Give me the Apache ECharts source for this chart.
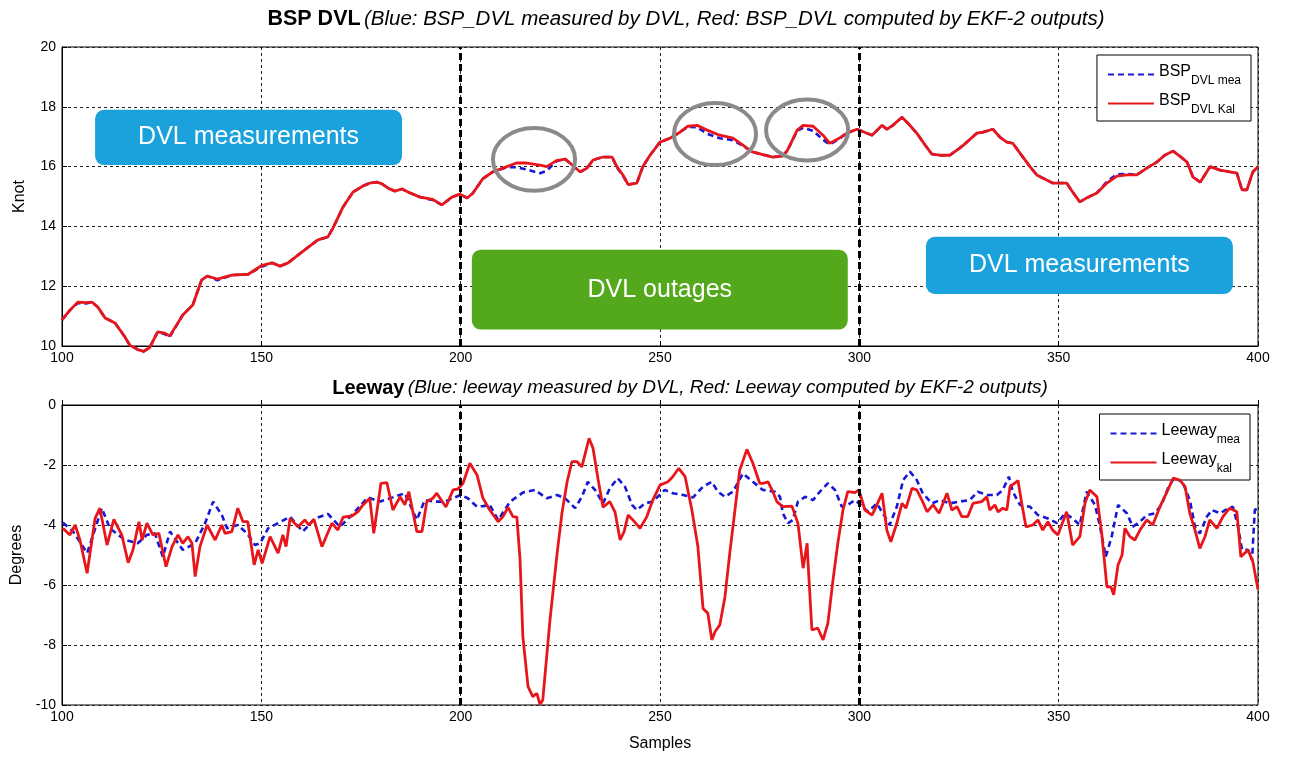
<!DOCTYPE html>
<html>
<head>
<meta charset="utf-8">
<script src="https://cdn.jsdelivr.net/npm/echarts@6/dist/echarts.min.js"></script>
<style>
  html, body { margin: 0; padding: 0; background: #fff; }
  #chart { width: 1289px; height: 761px; }
</style>
</head>
<body>
<div id="chart"></div>
<script>
// ---- Boat speed (knots): [sample, value] ----
const bspKal = [
  [100,10.87],[102,11.2],[104,11.47],[106,11.45],[107.5,11.47],[109,11.3],[110.8,10.94],[113.3,10.77],[115.8,10.3],[117,10.03],
  [119,9.88],[120.5,9.82],[122,9.95],[124,10.47],[125.8,10.43],[127,10.33],[130.3,11.04],[132.8,11.37],[135,12.2],[136.4,12.34],
  [139,12.24],[142.6,12.37],[146.7,12.4],[150.2,12.7],[152.7,12.78],[154.7,12.67],[156.7,12.78],[161.7,13.3],[164.2,13.55],[166.7,13.65],
  [168,13.95],[170.5,14.65],[173,15.15],[175.5,15.35],[177.2,15.45],[179,15.48],[180.3,15.42],[181.8,15.28],[183.5,15.18],[185.3,15.25],
  [187.3,15.12],[189.8,14.98],[193,14.9],[195.3,14.72],[197.8,14.98],[199.8,15.08],[201.6,14.95],[203,15.1],[205.6,15.6],[208,15.82],
  [211.6,16.0],[214,16.12],[216.6,16.12],[219.9,16.05],[221.6,16.0],[224,16.2],[226.2,16.25],[227.4,16.12],[230,15.82],[231.7,15.95],
  [233.2,16.22],[235.7,16.32],[238,16.32],[239.2,16.0],[240.7,15.72],[242,15.4],[244.2,15.45],[245.7,16.0],[247.5,16.38],[250,16.82],
  [252.5,16.95],[255,17.15],[257,17.35],[259.3,17.38],[261.8,17.22],[265,17.05],[268.3,16.95],[270.8,16.72],[273,16.5],[275.8,16.4],
  [278.3,16.32],[280.8,16.35],[282,16.55],[284.4,17.22],[285.9,17.38],[288.4,17.35],[290.9,17.05],[292.6,16.78],[294.6,16.92],[296.9,17.12],
  [299.4,17.25],[303.2,17.05],[305.7,17.38],[306.9,17.25],[308.4,17.38],[310.7,17.65],[312.2,17.45],[314.4,17.12],[316.5,16.72],[318.2,16.42],
  [320.2,16.38],[322.7,16.38],[325.2,16.62],[327,16.82],[329.5,17.12],[331,17.15],[333.5,17.25],[335.3,16.98],[337,16.82],[338.5,16.78],
  [340.3,16.45],[342.8,16.0],[344.5,15.72],[347,15.55],[348.5,15.45],[352,15.45],[353.5,15.15],[355.3,14.82],[357,14.95],[359.6,15.12],
  [362.1,15.45],[364.6,15.68],[367.1,15.72],[369.6,15.72],[372.1,15.95],[374.6,16.15],[376.6,16.38],[378.7,16.52],[380.4,16.35],[382.2,16.15],
  [383.7,15.65],[385.5,15.48],[388,16.0],[390.5,15.88],[393,15.82],[394.7,15.78],[396,15.22],[397.2,15.22],[398.7,15.82],[400,16.0]
];
const bspMea = [
  [100,10.87],[102,11.2],[104,11.44],[106,11.42],[107.5,11.47],[109,11.3],[110.8,10.94],[113.3,10.77],[115.8,10.3],[117,10.03],
  [119,9.88],[120.5,9.82],[122,9.95],[124,10.47],[125.8,10.4],[127,10.3],[130.3,11.04],[132.8,11.37],[135,12.2],[136.4,12.34],
  [139,12.2],[142.6,12.37],[146.7,12.4],[150.2,12.66],[152.7,12.78],[154.7,12.67],[156.7,12.78],[161.7,13.3],[164.2,13.55],[166.7,13.65],
  [168,13.95],[170.5,14.65],[173,15.15],[175.5,15.35],[177.2,15.45],[179,15.48],[180.3,15.42],[181.8,15.28],[183.5,15.18],[185.3,15.25],
  [187.3,15.12],[189.8,14.98],[193,14.88],[195.3,14.72],[197.8,14.98],[199.8,15.08],[201.6,14.95],[203,15.1],[205.6,15.6],[208,15.82],
  [211.6,15.98],[214,15.98],[216.6,15.9],[219.9,15.78],[221.6,15.86],[224,16.18],[226.2,16.25],[227.4,16.12],[230,15.82],[231.7,15.95],
  [233.2,16.22],[235.7,16.32],[238,16.32],[239.2,15.96],[240.7,15.7],[242,15.4],[244.2,15.45],[245.7,16.0],[247.5,16.38],[250,16.82],
  [252.5,16.95],[255,17.15],[257,17.33],[259.3,17.32],[261.8,17.1],[265,16.95],[268.3,16.88],[270.8,16.7],[273,16.5],[275.8,16.4],
  [278.3,16.32],[280.8,16.35],[282,16.55],[284.4,17.2],[285.9,17.3],[288.4,17.2],[290.9,16.9],[292.6,16.74],[294.6,16.9],[296.9,17.12],
  [299.4,17.25],[303.2,17.05],[305.7,17.38],[306.9,17.25],[308.4,17.38],[310.7,17.65],[312.2,17.45],[314.4,17.12],[316.5,16.72],[318.2,16.42],
  [320.2,16.38],[322.7,16.38],[325.2,16.62],[327,16.82],[329.5,17.12],[331,17.15],[333.5,17.25],[335.3,16.98],[337,16.82],[338.5,16.78],
  [340.3,16.45],[342.8,16.0],[344.5,15.72],[347,15.55],[348.5,15.45],[352,15.45],[353.5,15.15],[355.3,14.82],[357,14.95],[359.6,15.12],
  [362.1,15.5],[364.6,15.74],[367.1,15.76],[369.6,15.72],[372.1,15.95],[374.6,16.15],[376.6,16.38],[378.7,16.52],[380.4,16.35],[382.2,16.15],
  [383.7,15.65],[385.5,15.48],[388,16.0],[390.5,15.88],[393,15.82],[394.7,15.78],[396,15.22],[397.2,15.22],[398.7,15.82],[400,16.0]
];

// ---- Leeway (degrees): [sample, value] ----
const leeKal = [
  [100.2,-4.11],[102,-4.33],[103.3,-4.0],[104.5,-4.5],[106.3,-5.61],[108.3,-3.78],[109.5,-3.44],[111.3,-4.67],[113,-3.81],[115,-4.33],
  [116.6,-5.26],[117.8,-4.83],[119.3,-3.89],[120.1,-4.5],[121.3,-3.94],[122.8,-4.33],[124.3,-4.28],[126.1,-5.39],[127.6,-4.72],[129.1,-4.33],
  [130.3,-4.61],[131.6,-4.39],[132.6,-4.61],[133.4,-5.72],[134.6,-4.72],[136.4,-4.0],[138.4,-4.5],[140.1,-4.0],[140.9,-4.28],[142.6,-4.22],
  [144.1,-3.44],[145.4,-3.89],[146.6,-3.89],[148.2,-5.33],[149.2,-4.83],[150.2,-5.28],[152.2,-4.39],[154.2,-4.94],[155.4,-4.33],[156.2,-4.72],
  [157.2,-3.78],[159.2,-4.06],[160.9,-3.83],[161.9,-4.0],[163.2,-3.81],[165.2,-4.72],[167.7,-3.94],[169.2,-4.17],[170.5,-3.74],[172.7,-3.7],
  [174.2,-3.56],[175.5,-3.33],[177.2,-3.11],[178.2,-4.28],[180,-2.61],[181.5,-2.59],[183,-3.5],[184.8,-3.06],[186,-3.33],[187,-2.89],
  [189,-4.22],[190.3,-4.22],[191.5,-3.22],[193,-3.11],[194,-2.94],[196.3,-3.4],[198.1,-2.83],[199.3,-2.8],[200.6,-2.61],[202.3,-1.94],
  [204.1,-2.33],[205.6,-3.11],[207.3,-3.5],[209.4,-3.89],[210.6,-3.72],[211.9,-3.41],[213.1,-3.72],[214.1,-3.74],[214.9,-5.17],[215.6,-7.72],
  [216.9,-9.39],[218.1,-9.72],[219.1,-9.61],[219.9,-9.98],[220.6,-9.83],[222.4,-7.17],[224.2,-4.94],[225.4,-3.61],[226.7,-2.56],[227.9,-1.89],
  [229.2,-1.89],[230.4,-2.06],[232.2,-1.11],[233.2,-1.44],[234.5,-2.5],[235.7,-3.41],[237.4,-3.22],[238.7,-3.56],[240,-4.5],[241,-4.22],
  [242,-3.67],[243.2,-3.83],[245,-4.11],[246.7,-3.72],[248.2,-3.17],[250,-2.67],[252,-2.56],[253.2,-2.39],[254.7,-2.11],[256.3,-2.39],
  [258,-3.5],[259.5,-4.72],[260.8,-6.78],[262,-6.94],[263,-7.83],[263.8,-7.56],[265,-7.33],[266.3,-6.39],[267.5,-4.94],[268.8,-3.5],
  [270,-2.17],[271.8,-1.48],[273.3,-1.94],[275,-2.61],[275.8,-2.61],[277.1,-2.56],[278.3,-2.89],[279.3,-3.22],[280.8,-3.39],[283.1,-3.37],
  [284.6,-3.94],[285.9,-5.44],[286.9,-4.61],[287.1,-5.17],[288.1,-7.5],[289.6,-7.44],[290.9,-7.83],[292.1,-7.28],[293.4,-5.83],[294.6,-4.61],
  [295.9,-3.5],[297.1,-2.89],[298.9,-2.92],[299.9,-2.83],[301.4,-3.5],[303.2,-3.67],[304.4,-3.33],[305.7,-2.94],[306.9,-4.17],[307.9,-4.56],
  [309.4,-3.94],[310.7,-3.28],[311.7,-3.44],[313.2,-2.78],[314.4,-2.83],[315.7,-3.17],[317,-3.56],[318.5,-3.33],[320,-3.61],[322,-2.94],
  [323.2,-3.5],[324.5,-3.39],[325.7,-3.72],[327.2,-3.72],[328.5,-3.28],[330.7,-3.22],[332,-3.06],[332.7,-3.5],[334,-3.33],[334.8,-3.56],
  [336,-3.44],[337,-3.5],[337.8,-2.72],[339.8,-2.52],[340.8,-3.33],[341.8,-4.06],[343.5,-4.0],[344.8,-3.83],[346,-4.17],[347.3,-3.89],
  [348.5,-4.17],[349.8,-4.33],[352,-3.56],[353.5,-4.67],[355.3,-4.39],[356.6,-3.28],[357.8,-2.83],[359.6,-3.06],[360.8,-4.28],[362.1,-6.06],
  [363.1,-6.06],[363.8,-6.33],[364.9,-5.33],[365.9,-5.0],[366.6,-4.11],[367.9,-4.39],[369.1,-4.5],[370.4,-4.17],[372.1,-3.83],[373.6,-4.0],
  [375.4,-3.39],[377.2,-2.89],[378.7,-2.44],[380.4,-2.5],[381.7,-2.72],[382.9,-3.61],[384.2,-4.17],[385.4,-4.78],[386.7,-4.39],[387.9,-3.83],
  [389.7,-4.11],[391.2,-3.72],[392.9,-3.44],[394.7,-3.56],[395.7,-5.06],[397.5,-4.83],[398.7,-5.22],[400,-6.15]
];
const leeMea = [
  [100.2,-3.92],[102.8,-4.22],[106.3,-4.94],[110,-3.44],[112,-4.11],[115.8,-4.5],[119,-4.61],[121.3,-4.33],[123.3,-4.28],[125.3,-5.06],
  [127.1,-4.22],[130.3,-4.83],[133.4,-4.61],[135.9,-3.94],[137.9,-3.22],[140.1,-3.67],[141.4,-4.11],[144.1,-4.0],[146.4,-4.28],[148.4,-4.67],
  [149.7,-4.61],[151.7,-4.11],[154.2,-3.94],[157.2,-3.72],[160.4,-4.22],[163.5,-3.78],[166.7,-3.63],[169.7,-4.06],[172.7,-3.67],[176.7,-3.08],
  [179.8,-3.22],[182.3,-3.11],[186,-2.94],[189,-3.83],[191,-3.17],[193.6,-3.22],[196,-3.22],[198,-3.11],[200,-3.0],[201.8,-3.11],
  [204.1,-3.39],[205.6,-3.37],[207.3,-3.33],[209.4,-3.83],[212.4,-3.22],[215.6,-2.92],[218.6,-2.83],[221.6,-3.11],[224.2,-3.0],[226.2,-3.11],
  [228.7,-3.44],[230.4,-3.06],[231.9,-2.56],[233.7,-2.83],[235.7,-3.28],[237.4,-2.78],[239.4,-2.44],[241.2,-2.72],[243,-3.33],[244.2,-3.5],
  [246.2,-3.28],[248.2,-3.22],[251.2,-2.83],[253.2,-2.94],[255.8,-3.0],[258.3,-3.08],[260.8,-2.72],[263,-2.56],[264.5,-2.89],[266.3,-3.06],
  [268.3,-2.89],[270.8,-2.28],[273.3,-2.56],[275.8,-2.83],[278.8,-2.89],[280.1,-3.06],[280.8,-3.61],[282.1,-3.94],[283.3,-3.83],[284.6,-3.22],
  [286.4,-3.06],[288.4,-3.17],[290.1,-2.89],[292.1,-2.61],[293.9,-2.83],[295.6,-3.39],[297.1,-3.33],[298.9,-3.17],[299.9,-3.28],[302.2,-3.56],
  [304.4,-3.28],[306.4,-3.72],[307.6,-4.0],[309.4,-3.39],[311,-2.5],[312.7,-2.22],[314.4,-2.5],[315.9,-2.94],[318.2,-3.28],[320.2,-3.17],
  [322.7,-3.28],[325.2,-3.22],[327.7,-3.17],[329.7,-2.89],[332,-3.0],[334.5,-3.0],[336,-2.83],[337.5,-2.39],[338.5,-2.89],[340.3,-3.33],
  [342.8,-3.39],[344.8,-3.67],[347.3,-3.78],[349.6,-3.94],[351.6,-3.61],[353.5,-3.78],[355.3,-4.0],[357,-2.89],[359.1,-3.33],[360.3,-4.0],
  [361.8,-5.06],[363.3,-4.39],[364.9,-3.33],[367.1,-3.61],[368.6,-4.06],[370.4,-3.89],[372.1,-3.67],[374.1,-3.61],[375.8,-3.33],[377.4,-2.78],
  [379.1,-2.39],[381.2,-2.61],[382.9,-3.17],[384.2,-4.06],[385.4,-4.28],[387.2,-3.72],[388.4,-3.5],[390.5,-3.61],[392.5,-3.44],[393.7,-3.39],
  [395,-4.06],[396,-4.83],[397.5,-4.83],[398.5,-5.17],[399.2,-3.5],[400,-3.44]
];

// Sample range and phase boundaries (DVL available / outage / available)
const sampleRange = [100, 400];
const sampleStep = 50;
const phaseBounds = [200, 300];
const bspRange = [10, 20];
const leeRange = [-10, 0];
const valueStep = 2;

// Panel titles
const bspTitle = ['BSP DVL', '(Blue: BSP_DVL measured by DVL, Red: BSP_DVL computed by EKF-2 outputs)'];
const leeTitle = ['Leeway', '(Blue: leeway measured by DVL, Red: Leeway computed by EKF-2 outputs)'];

// Text callouts on the speed panel, in data units
const callouts = [
  { text: 'DVL measurements', x0: 108.3, x1: 185.3, y0: 17.9, y1: 16.05 },
  { text: 'DVL outages',      x0: 202.8, x1: 297.1, y0: 13.22, y1: 10.55 },
  { text: 'DVL measurements', x0: 316.7, x1: 393.7, y0: 13.65, y1: 11.74 }
];
const calloutColors = ['#1ba1dc', '#54a81c', '#1ba1dc'];
// Rings around the outage discrepancies, in data units (centre, half-width, half-height)
const rings = [
  { x: 218.4, y: 16.24, dx: 10.3, dy: 1.05 },
  { x: 263.8, y: 17.09, dx: 10.3, dy: 1.04 },
  { x: 286.9, y: 17.22, dx: 10.3, dy: 1.02 }
];

const FONT = "'Liberation Sans', Arial, sans-serif";
const RED = '#e8161b';
const BLUE = '#1717d6';

const chart = echarts.init(document.getElementById('chart'), null, { renderer: 'canvas' });

function xAxisCfg(gridIndex, withName) {
  return {
    type: 'value', gridIndex,
    min: sampleRange[0], max: sampleRange[1], interval: sampleStep,
    name: withName ? 'Samples' : '', nameLocation: 'middle', nameGap: 31,
    nameTextStyle: { fontFamily: FONT, fontSize: 16, color: '#000' },
    axisLine: { lineStyle: { color: '#000', width: 1 } },
    axisTick: { inside: true, length: 5, lineStyle: { color: '#000' } },
    axisLabel: { fontFamily: FONT, fontSize: 14, color: '#000', margin: 5 },
    splitLine: { show: true, lineStyle: { color: '#222', type: [3, 3], width: 1 } }
  };
}
function yAxisCfg(gridIndex, range, name) {
  return {
    type: 'value', gridIndex,
    min: range[0], max: range[1], interval: valueStep,
    name, nameLocation: 'middle', nameGap: 34,
    nameTextStyle: { fontFamily: FONT, fontSize: 16, color: '#000' },
    axisLine: { lineStyle: { color: '#000', width: 1 } },
    axisTick: { inside: true, length: 5, lineStyle: { color: '#000' } },
    axisLabel: { fontFamily: FONT, fontSize: 14, color: '#000', margin: 6 },
    splitLine: { show: true, lineStyle: { color: '#222', type: [3, 3], width: 1 } }
  };
}

const boundaryLine = {
  silent: true, symbol: 'none', label: { show: false },
  lineStyle: { color: '#000', type: [7, 4], width: 3 },
  data: phaseBounds.map(v => ({ xAxis: v }))
};

// Legend entries: base word plus a lowered subscript
function legendCfg(top, right, names, subs) {
  return {
    orient: 'vertical', top, right,
    data: names,
    itemWidth: 46, itemHeight: 14, itemGap: 4,
    padding: [7, 10, 5, 10],
    borderColor: '#000', borderWidth: 1, backgroundColor: '#fff',
    itemStyle: { opacity: 0 },
    formatter: n => '{m|' + n.split(' ')[0] + '}{s|' + subs[names.indexOf(n)] + '}',
    textStyle: {
      rich: {
        m: { fontFamily: FONT, fontSize: 16, color: '#000', lineHeight: 25, padding: [2, 0, 0, 0], verticalAlign: 'top' },
        s: { fontFamily: FONT, fontSize: 12, color: '#000', lineHeight: 25, verticalAlign: 'bottom' }
      }
    }
  };
}

function lineSeries(name, data, xi, yi, color, dashed, z, extra) {
  return Object.assign({
    name, type: 'line', xAxisIndex: xi, yAxisIndex: yi, data,
    symbol: 'none', smooth: false, z,
    lineStyle: { color, width: dashed ? 2.6 : 2.8, type: dashed ? [6, 4] : 'solid' },
    itemStyle: { color },
    emphasis: { disabled: true }
  }, extra || {});
}

function titleRich(bold, italic) {
  return {
    b: { fontFamily: FONT, fontSize: bold, fontWeight: 'bold', color: '#000' },
    i: { fontFamily: FONT, fontSize: italic, fontStyle: 'italic', color: '#000' }
  };
}

chart.setOption({
  animation: false,
  backgroundColor: '#fff',
  grid: [
    { left: 62, right: 31, top: 47, height: 299, show: true, borderColor: '#000', borderWidth: 1, backgroundColor: 'transparent' },
    { left: 62, right: 31, top: 405, height: 300, show: true, borderColor: '#000', borderWidth: 1, backgroundColor: 'transparent' }
  ],
  xAxis: [xAxisCfg(0, false), xAxisCfg(1, true)],
  yAxis: [yAxisCfg(0, bspRange, 'Knot'), yAxisCfg(1, leeRange, 'Degrees')],
  legend: [
    legendCfg(55, 38, ['BSP mea', 'BSP Kal'], ['DVL mea', 'DVL Kal']),
    legendCfg(414, 39, ['Leeway mea', 'Leeway kal'], ['mea', 'kal'])
  ],
  series: [
    lineSeries('BSP mea', bspMea, 0, 0, BLUE, true, 3, { clip: false }),
    lineSeries('BSP Kal', bspKal, 0, 0, RED, false, 4, { clip: false, markLine: boundaryLine }),
    lineSeries('Leeway mea', leeMea, 1, 1, BLUE, true, 3),
    lineSeries('Leeway kal', leeKal, 1, 1, RED, false, 4, { markLine: boundaryLine })
  ]
});

// Titles, callout boxes and rings; box and ring positions go through the grid's scales
const toPx = p => chart.convertToPixel({ gridIndex: 0 }, p);
const overlay = [
  { type: 'text', x: 686, y: 19, z: 20, style: {
      text: '{b|' + bspTitle[0] + '} {i|' + bspTitle[1] + '}',
      rich: titleRich(21.5, 20.5), align: 'center', verticalAlign: 'middle' } },
  { type: 'text', x: 690, y: 388, z: 20, style: {
      text: '{b|' + leeTitle[0] + '} {i|' + leeTitle[1] + '}',
      rich: titleRich(20, 19), align: 'center', verticalAlign: 'middle' } }
];
callouts.forEach((c, i) => {
  const a = toPx([c.x0, c.y0]);
  const b = toPx([c.x1, c.y1]);
  overlay.push({
    type: 'rect', z: 30,
    shape: { x: a[0], y: a[1], width: b[0] - a[0], height: b[1] - a[1], r: 9 },
    style: { fill: calloutColors[i] }
  });
  overlay.push({
    type: 'text', z: 31, x: (a[0] + b[0]) / 2, y: (a[1] + b[1]) / 2,
    style: { text: c.text, fill: '#fff', fontFamily: FONT, fontSize: 25, align: 'center', verticalAlign: 'middle' }
  });
});
rings.forEach(r => {
  const c = toPx([r.x, r.y]);
  const e = toPx([r.x + r.dx, r.y - r.dy]);
  overlay.push({
    type: 'ellipse', z: 30,
    shape: { cx: c[0], cy: c[1], rx: e[0] - c[0], ry: e[1] - c[1] },
    style: { fill: 'none', stroke: '#8a8a8a', lineWidth: 4 }
  });
});
chart.setOption({ graphic: overlay });
</script>
</body>
</html>
